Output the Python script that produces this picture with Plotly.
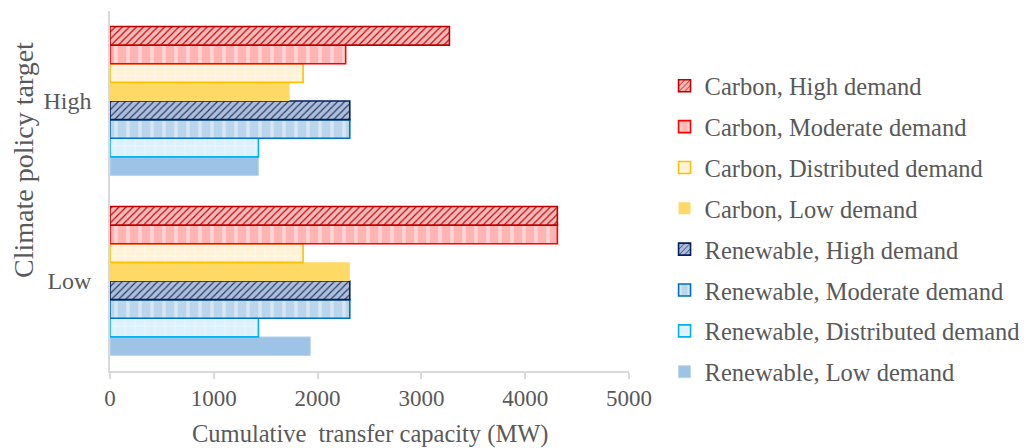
import plotly.graph_objects as go

categories = ["Low", "High"]
series_names = [
    "Carbon, High demand",
    "Carbon, Moderate demand",
    "Carbon, Distributed demand",
    "Carbon, Low demand",
    "Renewable, High demand",
    "Renewable, Moderate demand",
    "Renewable, Distributed demand",
    "Renewable, Low demand",
]
# values for [Low, High]
carbon_high = [4310, 3270]
carbon_moderate = [4310, 2270]
carbon_distributed = [1860, 1860]
carbon_low = [2310, 1730]
renewable_high = [2310, 2310]
renewable_moderate = [2310, 2310]
renewable_distributed = [1430, 1430]
renewable_low = [1930, 1430]
x_ticks = [0, 1000, 2000, 3000, 4000, 5000]

values = [carbon_high, carbon_moderate, carbon_distributed, carbon_low,
          renewable_high, renewable_moderate, renewable_distributed, renewable_low]

styles = [
    dict(color="#F2B3B3", line=dict(color="#C00000", width=1.6),
         pattern=dict(shape="/", fgcolor="#C00000", bgcolor="#F4BABA", size=5, solidity=0.22, fillmode="replace")),
    dict(color="#FFB7B7", line=dict(color="#FF0000", width=1.6),
         pattern=dict(shape="|", fgcolor="#FFD4D4", bgcolor="#FFB4B4", size=12, solidity=0.3, fillmode="replace")),
    dict(color="#FFF3DA", line=dict(color="#FFC000", width=1.6),
         pattern=dict(shape="+", fgcolor="#FFF9EE", bgcolor="#FFF2D6", size=10, solidity=0.2, fillmode="replace")),
    dict(color="#FFD966", line=dict(color="#FFD966", width=0)),
    dict(color="#8E9FC3", line=dict(color="#002060", width=1.6),
         pattern=dict(shape="/", fgcolor="#1F3864", bgcolor="#AEBDD9", size=5, solidity=0.22, fillmode="replace")),
    dict(color="#BDD7EE", line=dict(color="#0070C0", width=1.6),
         pattern=dict(shape="|", fgcolor="#D6E6F4", bgcolor="#BAD6EC", size=12, solidity=0.3, fillmode="replace")),
    dict(color="#DFF2FC", line=dict(color="#00B0F0", width=1.6),
         pattern=dict(shape="+", fgcolor="#EAF7FD", bgcolor="#DCF1FB", size=10, solidity=0.2, fillmode="replace")),
    dict(color="#9DC3E6", line=dict(color="#BDD7EE", width=1)),
]

fig = go.Figure()
# add in reverse so Carbon High sits at the top of each group
items = list(enumerate(zip(series_names, values, styles)))
for rank, (name, vals, st) in reversed(items):
    fig.add_trace(go.Bar(
        y=categories, x=vals, name=name, orientation="h",
        marker=st, legendgroup=name, legendrank=rank + 1,
    ))

# page has an 8px body margin; figure is sized/offset to compensate
W, H = 1019, 440
L, T, PW, PH = 102, 3, 519, 360

font_fam = "Liberation Serif, Times New Roman, serif"
txt = "#595959"
fig.update_layout(
    width=W, height=H,
    paper_bgcolor="white", plot_bgcolor="white",
    margin=dict(l=L, r=W - L - PW, t=T, b=H - T - PH, autoexpand=False),
    barmode="group", bargap=0.172, bargroupgap=0,
    font=dict(family=font_fam, color=txt, size=23),
    legend=dict(
        traceorder="grouped", x=1.0685, xanchor="left", y=0.395, yanchor="middle",
        font=dict(size=24.5, color=txt, family=font_fam),
        tracegroupgap=6, itemwidth=30, bgcolor="rgba(0,0,0,0)",
    ),
    showlegend=True,
    annotations=[
        dict(text="Cumulative  transfer capacity (MW)", xref="paper", yref="paper",
             x=0.5, y=0, xanchor="center", yanchor="middle", yshift=-63, showarrow=False,
             font=dict(size=24.5, color=txt, family=font_fam)),
        dict(text="Climate policy target", xref="paper", yref="paper",
             x=0, y=(371 - 160) / 360, xanchor="center", yanchor="middle", xshift=-87,
             textangle=-90, showarrow=False,
             font=dict(size=28, color=txt, family=font_fam)),
    ],
)
fig.update_xaxes(
    range=[0, 5000], tickvals=x_ticks, ticktext=[str(v) for v in x_ticks],
    showgrid=False, zeroline=False, showline=True, linecolor="#D9D9D9", linewidth=1.5,
    ticks="outside", tickcolor="#D9D9D9", ticklen=6, tickwidth=1.5, automargin=False,
    tickfont=dict(size=23, color=txt, family=font_fam),
)
fig.update_yaxes(
    categoryorder="array", categoryarray=categories, automargin=False,
    showgrid=False, zeroline=False, showline=True, linecolor="#D9D9D9", linewidth=1.5,
    ticks="", tickfont=dict(size=24, color=txt, family=font_fam), ticklabelstandoff=12,
)
fig.write_html("out.html")
